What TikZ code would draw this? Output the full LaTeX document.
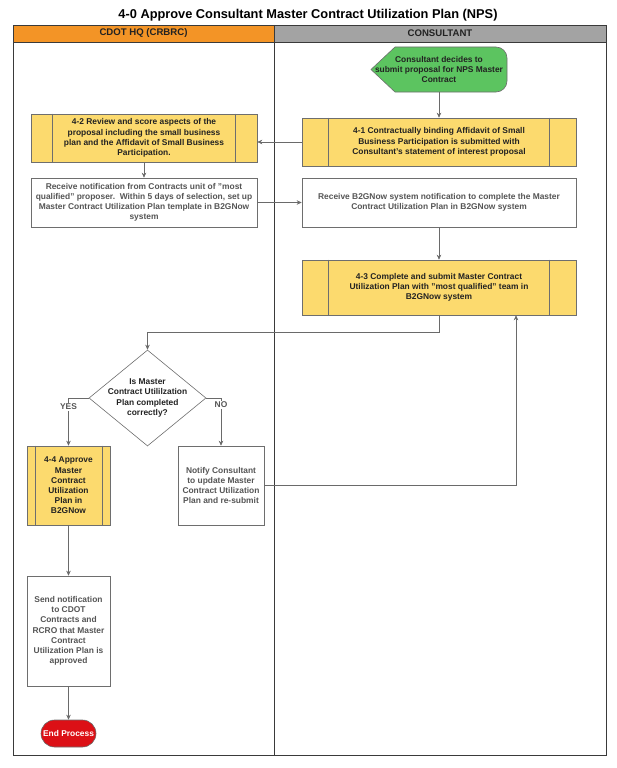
\documentclass[tikz,border=0pt]{standalone}
\usepackage{fontspec}
\setmainfont{Liberation Sans}
\usetikzlibrary{shapes.geometric,shapes.misc,arrows.meta}
\definecolor{laneline}{HTML}{3A3A3A}
\definecolor{boxline}{HTML}{6E6E6E}
\definecolor{connline}{HTML}{6A6A6A}
\definecolor{procyellow}{HTML}{FCDA6E}
\definecolor{startgreen}{HTML}{5CC460}
\definecolor{endred}{HTML}{DC1016}
\definecolor{hdrorange}{HTML}{F39426}
\definecolor{hdrgray}{HTML}{A3A3A3}
\definecolor{textdark}{HTML}{222222}
\definecolor{textgray}{HTML}{555555}
\begin{document}
\begin{tikzpicture}[x=1pt,y=-1pt,
  font=\fontsize{8.4}{10.2}\selectfont\bfseries,
  lane/.style={draw=laneline, line width=0.8pt},
  yellowbox/.style={draw=boxline, line width=0.6pt, fill=procyellow, text=textdark, align=center, inner sep=0pt},
  whitebox/.style={draw=boxline, line width=0.6pt, fill=white, text=textgray, align=center, inner sep=0pt},
  conn/.style={draw=connline, line width=0.6pt, -{Stealth[length=5pt,width=4.5pt]}},
  innerline/.style={draw=boxline, line width=0.6pt},
  lbl/.style={fill=white, text=textgray, inner sep=1pt},
  hdrtext/.style={font=\fontsize{9.6}{11}\selectfont\bfseries, text=textdark}
  ]
\useasboundingbox (0,0) rectangle (616,768);
% title
\node[font=\fontsize{12.8}{14}\selectfont\bfseries, text=black] (title) at (308,15) {4-0 Approve Consultant Master Contract Utilization Plan (NPS)};
% lanes
\fill[hdrorange] (13,25) rectangle (274,42);
\fill[hdrgray] (274,25) rectangle (606,42);
\draw[lane] (13,25) rectangle (606,755);
\draw[lane] (13,42) -- (606,42);
\draw[lane] (274,25) -- (274,755);
\node[hdrtext] (h1) at (143.5,33.5) {CDOT HQ (CRBRC)};
\node[hdrtext] (h2) at (440,33.5) {CONSULTANT};
% start
\filldraw[fill=startgreen, draw=boxline, line width=0.6pt] (371,69.5) -- (395,47) [rounded corners=11pt] -- (507,47) -- (507,92) [sharp corners] -- (395,92) -- cycle;
\node[align=center, text=textdark, inner sep=0pt, minimum width=136pt, minimum height=45pt] (start) at (439,69.5) {Consultant decides to\\submit proposal for NPS Master\\Contract};
% 4-1
\node[yellowbox, minimum width=274pt, minimum height=48pt] (n41) at (439,142) {4-1 Contractually binding Affidavit of Small\\Business Participation is submitted with\\Consultant's statement of interest proposal};
\draw[innerline] ([xshift=27pt]n41.north west) -- ([xshift=27pt]n41.south west);
\draw[innerline] ([xshift=-27pt]n41.north east) -- ([xshift=-27pt]n41.south east);
% 4-2
\node[yellowbox, minimum width=226pt, minimum height=48pt] (n42) at (144,138) {4-2 Review and score aspects of the\\proposal including the small business\\plan and the Affidavit of Small Business\\Participation.};
\draw[innerline] ([xshift=22pt]n42.north west) -- ([xshift=22pt]n42.south west);
\draw[innerline] ([xshift=-22pt]n42.north east) -- ([xshift=-22pt]n42.south east);
% notifications
\node[whitebox, minimum width=226pt, minimum height=49pt] (l1) at (144,202.5) {Receive notification from Contracts unit of "most\\qualified" proposer.\ \ Within 5 days of selection, set up\\Master Contract Utilization Plan template in B2GNow\\system};
\node[whitebox, minimum width=274pt, minimum height=49pt] (r1) at (439,202.5) {Receive B2GNow system notification to complete the Master\\Contract Utilization Plan in B2GNow system};
% 4-3
\node[yellowbox, minimum width=274pt, minimum height=55pt] (n43) at (439,287.5) {4-3 Complete and submit Master Contract\\Utilization Plan with "most qualified" team in\\B2GNow system};
\draw[innerline] ([xshift=27pt]n43.north west) -- ([xshift=27pt]n43.south west);
\draw[innerline] ([xshift=-27pt]n43.north east) -- ([xshift=-27pt]n43.south east);
% diamond
\node[diamond, draw=boxline, line width=0.6pt, fill=white, inner sep=0pt, minimum width=117pt, minimum height=96pt] (dia) at (147.5,398) {};
\node[align=center, text=textdark, inner sep=0pt] (diatext) at (dia.center) {Is Master\\Contract Utililzation\\Plan completed\\correctly?};
% 4-4
\node[yellowbox, minimum width=83pt, minimum height=79pt] (n44) at (68.5,485.5) {4-4 Approve\\Master\\Contract\\Utilization\\Plan in\\B2GNow};
\draw[innerline] ([xshift=8.5pt]n44.north west) -- ([xshift=8.5pt]n44.south west);
\draw[innerline] ([xshift=-8.5pt]n44.north east) -- ([xshift=-8.5pt]n44.south east);
% notify
\node[whitebox, minimum width=86pt, minimum height=79pt] (notify) at (221,485.5) {Notify Consultant\\to update Master\\Contract Utilization\\Plan and re-submit};
% send
\node[whitebox, minimum width=83pt, minimum height=110pt] (send) at (68.5,631) {Send notification\\to CDOT\\Contracts and\\RCRO that Master\\Contract\\Utilization Plan is\\approved};
% end
\node[rounded rectangle, draw=boxline, line width=0.6pt, fill=endred, text=white, inner sep=0pt, minimum width=55pt, minimum height=27pt] (endp) at (68.5,733.5) {End Process};
% connectors
\draw[conn] (start.south) -- (n41.north);
\draw[conn] (n41.west) -- (n41.west -| n42.east);
\draw[conn] (n42.south) -- (l1.north);
\draw[conn] (l1.east) -- (r1.west);
\draw[conn] (r1.south) -- (n43.north);
\draw[conn] (n43.south) -- ++(0,17) -| (dia.north);
\draw[conn] (dia.west) -| (n44.north);
\draw[conn] (dia.east) -| (notify.north);
\node[lbl] (yes) at (68.5,407) {YES};
\node[lbl] (no) at (221,405) {NO};
\draw[conn] (notify.east) -| ([xshift=77pt]n43.south);
\draw[conn] (n44.south) -- (send.north);
\draw[conn] (send.south) -- (endp.north);
\end{tikzpicture}
\end{document}
